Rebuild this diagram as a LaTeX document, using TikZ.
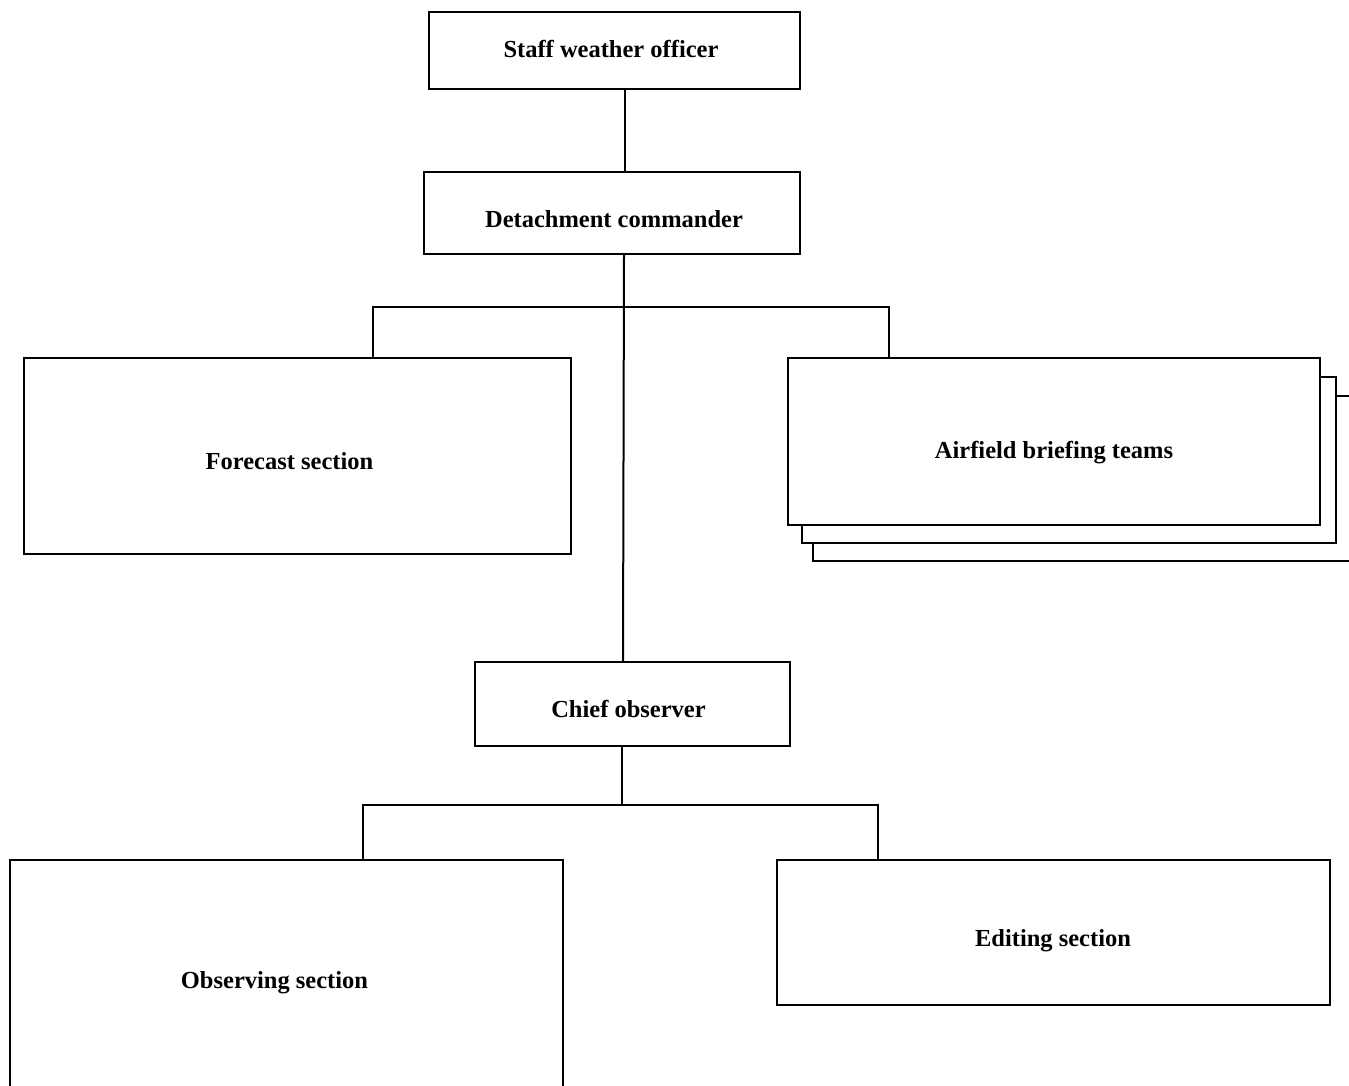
\documentclass[tikz,border=0pt]{standalone}
\usepackage{fontspec}
\setmainfont{Liberation Serif}
\begin{document}
\begin{tikzpicture}[x=1pt,y=1pt,
  box/.style={draw=black,line width=2pt,fill=white,inner sep=0pt},
  lbl/.style={anchor=base,inner sep=0pt,font=\fontsize{24.5}{28}\selectfont\bfseries},
  conn/.style={line width=2pt}]
\useasboundingbox (0,0) rectangle (1349,-1086);
\clip (0,0) rectangle (1349,-1086);
% boxes
\node[box,minimum width=371,minimum height=77] (sw) at (614.5,-50.5) {};
\node[box,minimum width=376,minimum height=82] (dc) at (612,-213) {};
\node[box,minimum width=547,minimum height=196] (fc) at (297.5,-456) {};
\node[box,minimum width=547,minimum height=165] (ab3) at (1086.5,-478.5) {};
\node[box,minimum width=534,minimum height=166] (ab2) at (1069,-460) {};
\node[box,minimum width=532,minimum height=167] (ab) at (1054,-441.5) {};
\node[box,minimum width=315,minimum height=84] (co) at (632.5,-704) {};
\node[box,minimum width=553,minimum height=240] (os) at (286.5,-980) {};
\node[box,minimum width=553,minimum height=145] (es) at (1053.5,-932.5) {};
% labels
\node[lbl] (swt) at (611,-58) {Staff weather officer};
\node[lbl] (dct) at (614,-228) {Detachment commander};
\node[lbl] (fct) at (289.5,-469) {Forecast section};
\node[lbl] (abt) at (1054,-458) {Airfield briefing teams};
\node[lbl] (cot) at (628.5,-717) {Chief observer};
\node[lbl] (ost) at (274.5,-988) {Observing section};
\node[lbl] (est) at (1053,-946) {Editing section};
% connectors
\draw[conn] (625,0 |- sw.south) -- (625,0 |- dc.north);
\draw[conn] (624,0 |- dc.south) -- (623,0 |- co.north);
\draw[conn] (373,0 |- fc.north) -- (373,-307) -- (889,-307) -- (889,0 |- ab.north);
\draw[conn] (622,0 |- co.south) -- (622,-805);
\draw[conn] (363,0 |- os.north) -- (363,-805) -- (878,-805) -- (878,0 |- es.north);
\end{tikzpicture}
\end{document}
